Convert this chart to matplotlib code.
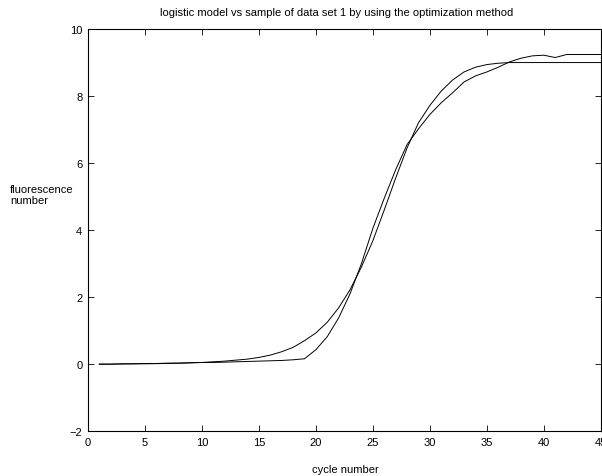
import matplotlib
matplotlib.use("Agg")
import matplotlib.pyplot as plt
import numpy as np

plt.rcParams['font.family'] = ['Liberation Sans', 'DejaVu Sans']

# cycle numbers 1..45
cycles = list(range(1, 46))

# measured fluorescence (sample of data set 1)
sample = [0.0, 0.0, 0.01, 0.01, 0.02, 0.02, 0.03, 0.03, 0.04, 0.05,
          0.05, 0.06, 0.07, 0.08, 0.09, 0.10, 0.11, 0.13, 0.16, 0.43,
          0.82, 1.38, 2.10, 3.00, 4.05, 4.95, 5.80, 6.55, 7.02, 7.45,
          7.80, 8.10, 8.42, 8.60, 8.72, 8.86, 9.02, 9.13, 9.20, 9.22,
          9.15, 9.24, 9.24, 9.24, 9.24]

# fitted logistic model
model = [0.0, 0.0, 0.005, 0.01, 0.01, 0.015, 0.02, 0.03, 0.04, 0.05,
         0.07, 0.09, 0.12, 0.15, 0.20, 0.27, 0.37, 0.50, 0.70, 0.93,
         1.25, 1.68, 2.22, 2.90, 3.68, 4.60, 5.55, 6.45, 7.20, 7.72,
         8.15, 8.48, 8.72, 8.86, 8.94, 8.98, 9.00, 9.00, 9.00, 9.00,
         9.00, 9.00, 9.00, 9.00, 9.00]

xticks = [0, 5, 10, 15, 20, 25, 30, 35, 40, 45]
yticks = [-2, 0, 2, 4, 6, 8, 10]

fig = plt.figure(figsize=(6.02, 4.77), dpi=100)
ax = fig.add_axes([0.146, 0.094, 0.852, 0.843])

ax.plot(cycles, model, color='black', linewidth=0.7)
ax.plot(cycles, sample, color='black', linewidth=0.7)

ax.set_xlim(0, 45)
ax.set_ylim(-2, 10)
ax.set_xticks(xticks)
ax.set_yticks(yticks)
ax.tick_params(direction='in', top=True, right=True, labelsize=8,
               length=4, width=0.6, pad=4)
for s in ax.spines.values():
    s.set_linewidth(0.8)

fig.text(0.56, 0.972, 'logistic model vs sample of data set 1 by using the optimization method',
         ha='center', va='center', fontsize=8)
fig.text(0.573, 0.015, 'cycle number', ha='center', va='center', fontsize=8)
fig.text(0.017, 0.59, 'fluorescence\nnumber', ha='left', va='center',
         fontsize=8, linespacing=1.2)

fig.savefig('out.png', dpi=100)
